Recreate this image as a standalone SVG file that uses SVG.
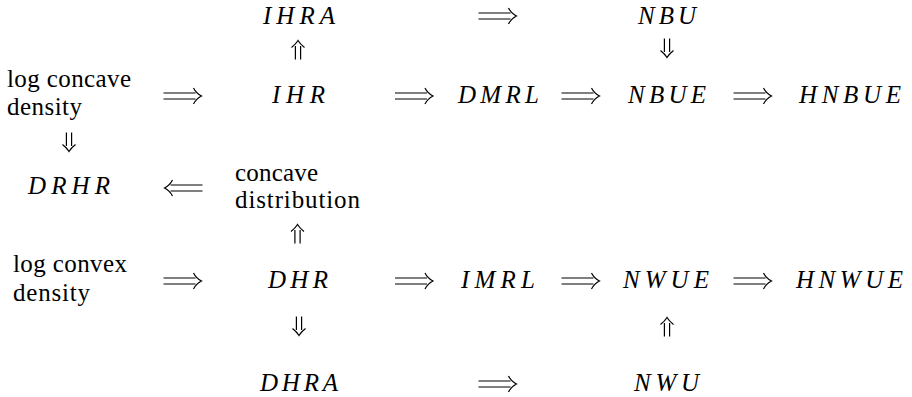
<svg xmlns="http://www.w3.org/2000/svg" xmlns:xlink="http://www.w3.org/1999/xlink" width="912" height="397" viewBox="0 0 912 397">
<style>
.m{font-family:"Liberation Serif","Times New Roman","DejaVu Serif",serif;font-style:italic;font-size:25px;fill:#000}
.t{font-family:"Liberation Serif","Times New Roman","DejaVu Serif",serif;font-size:25px;fill:#000}
.a{fill:none;stroke:#000;stroke-width:1.2}
</style>
<defs>
<g id="R"><path class="a" d="M-19,-3H13M-19,3H13M11,-8C13,-4 16,-1.5 19,0C16,1.5 13,4 11,8"/></g>
<g id="U"><path class="a" d="M-2.6,9.5V-4M2.6,9.5V-4M-6.5,-2.5C-4,-4.5 -1.5,-7 0,-9.5C1.5,-7 4,-4.5 6.5,-2.5"/></g>
</defs>
<rect width="912" height="397" fill="#fff"/>
<g id="nodes">
<g id="IHRA"><text class="m" x="263" y="24" textLength="72" lengthAdjust="spacing">IHRA</text></g>
<g id="NBU"><text class="m" x="638" y="24" textLength="58" lengthAdjust="spacing">NBU</text></g>
<g id="logconcave"><text class="t" x="7" y="87" textLength="124" lengthAdjust="spacing">log concave</text><text class="t" x="7" y="115" textLength="75" lengthAdjust="spacing">density</text></g>
<g id="IHR"><text class="m" x="272" y="103" textLength="53" lengthAdjust="spacing">IHR</text></g>
<g id="DMRL"><text class="m" x="458" y="103" textLength="81" lengthAdjust="spacing">DMRL</text></g>
<g id="NBUE"><text class="m" x="628" y="103" textLength="78" lengthAdjust="spacing">NBUE</text></g>
<g id="HNBUE"><text class="m" x="799" y="103" textLength="102" lengthAdjust="spacing">HNBUE</text></g>
<g id="DRHR"><text class="m" x="28" y="194" textLength="82" lengthAdjust="spacing">DRHR</text></g>
<g id="concavedist"><text class="t" x="235" y="181" textLength="83" lengthAdjust="spacing">concave</text><text class="t" x="235" y="208" textLength="125" lengthAdjust="spacing">distribution</text></g>
<g id="logconvex"><text class="t" x="13" y="272" textLength="114" lengthAdjust="spacing">log convex</text><text class="t" x="13" y="301" textLength="77" lengthAdjust="spacing">density</text></g>
<g id="DHR"><text class="m" x="268" y="288" textLength="60" lengthAdjust="spacing">DHR</text></g>
<g id="IMRL"><text class="m" x="461" y="288" textLength="74" lengthAdjust="spacing">IMRL</text></g>
<g id="NWUE"><text class="m" x="623" y="288" textLength="86" lengthAdjust="spacing">NWUE</text></g>
<g id="HNWUE"><text class="m" x="796" y="288" textLength="107" lengthAdjust="spacing">HNWUE</text></g>
<g id="DHRA"><text class="m" x="260" y="391" textLength="78" lengthAdjust="spacing">DHRA</text></g>
<g id="NWU"><text class="m" x="634" y="391" textLength="65" lengthAdjust="spacing">NWU</text></g>
</g>
<g id="connectors">
<use xlink:href="#R" transform="translate(497.5,16)"/>
<use xlink:href="#R" transform="translate(182.5,96)"/>
<use xlink:href="#R" transform="translate(414,96)"/>
<use xlink:href="#R" transform="translate(580.5,96)"/>
<use xlink:href="#R" transform="translate(752.5,96)"/>
<use xlink:href="#R" transform="translate(183.5,188) scale(-1,1)"/>
<use xlink:href="#R" transform="translate(182.5,281)"/>
<use xlink:href="#R" transform="translate(414,281)"/>
<use xlink:href="#R" transform="translate(580.5,281)"/>
<use xlink:href="#R" transform="translate(752.5,281)"/>
<use xlink:href="#R" transform="translate(497.5,384)"/>
<use xlink:href="#U" transform="translate(298,50)"/>
<use xlink:href="#U" transform="translate(667,48) scale(1,-1)"/>
<use xlink:href="#U" transform="translate(69,142) scale(1,-1)"/>
<use xlink:href="#U" transform="translate(297.5,234)"/>
<use xlink:href="#U" transform="translate(299,326) scale(1,-1)"/>
<use xlink:href="#U" transform="translate(667,327)"/>
</g>
</svg>
